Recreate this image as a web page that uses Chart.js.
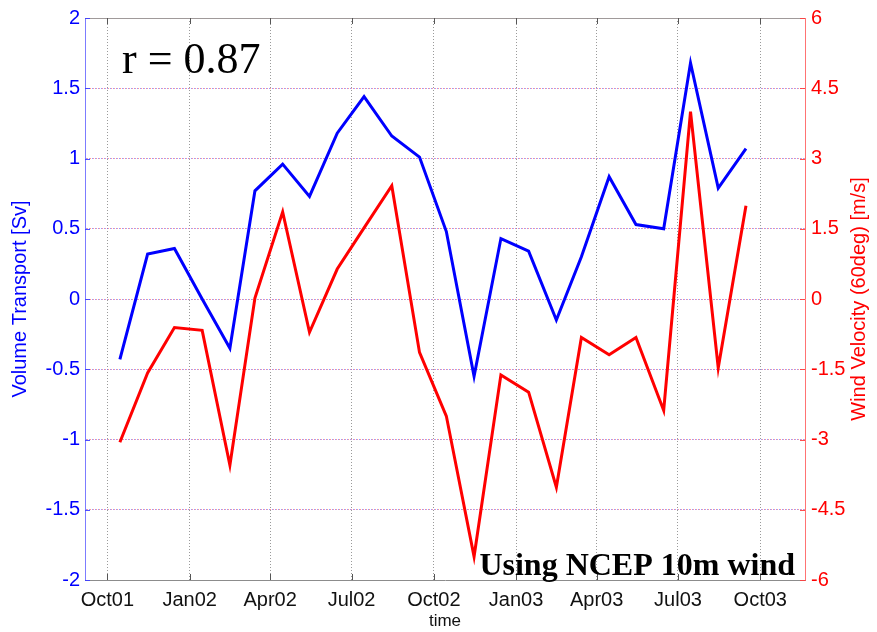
<!DOCTYPE html>
<html>
<head>
<meta charset="utf-8">
<script src="https://cdn.jsdelivr.net/npm/chart.js@4"></script>
<style>
  html, body { margin: 0; padding: 0; background: #fff; }
  #wrap { width: 877px; height: 632px; position: relative; }
</style>
</head>
<body>
<div id="wrap"><canvas id="c" width="877" height="632"></canvas></div>
<script>
// Monthly means (plotted at mid-month), Oct 2001 - Sep 2003
const months = [
  '2001-10','2001-11','2001-12',
  '2002-01','2002-02','2002-03','2002-04','2002-05','2002-06',
  '2002-07','2002-08','2002-09','2002-10','2002-11','2002-12',
  '2003-01','2003-02','2003-03','2003-04','2003-05','2003-06',
  '2003-07','2003-08','2003-09'
];
// Volume transport [Sv]
const transport = [
  -0.43, 0.32, 0.36,
  0.00, -0.35, 0.77, 0.96, 0.73, 1.18,
  1.44, 1.16, 1.01, 0.48, -0.55, 0.43,
  0.34, -0.15, 0.30, 0.87, 0.53, 0.50,
  1.68, 0.79, 1.07
];
// Wind velocity along 60deg [m/s]
const wind = [
  -3.06, -1.58, -0.61,
  -0.67, -3.55, 0.02, 1.86, -0.71, 0.64,
  1.52, 2.42, -1.14, -2.50, -5.50, -1.62,
  -1.99, -4.02, -0.82, -1.19, -0.82, -2.38,
  4.00, -1.47, 1.99
];
// Time axis ticks (first day of the month)
const tickMonths = ['2001-10','2002-01','2002-04','2002-07','2002-10','2003-01','2003-04','2003-07','2003-10'];
const tickLabels = ['Oct01','Jan02','Apr02','Jul02','Oct02','Jan03','Apr03','Jul03','Oct03'];
const leftTicks  = [-2, -1.5, -1, -0.5, 0, 0.5, 1, 1.5, 2];
const rightTicks = [-6, -4.5, -3, -1.5, 0, 1.5, 3, 4.5, 6];

const corrText = 'r = 0.87';
const noteText = 'Using NCEP 10m wind';

// Days counted from 1 Oct 2001
const ORIGIN = Date.UTC(2001, 9, 1);
function dayOf(ym, d) {
  const [y, m] = ym.split('-').map(Number);
  return (Date.UTC(y, m - 1, d) - ORIGIN) / 86400000;
}

const SANS = "'Liberation Sans', Arial, Helvetica, sans-serif";
const SERIF = "'Liberation Serif', 'Times New Roman', serif";

// Inward tick marks, frame top, right-axis label and in-plot annotations
const decorations = {
  id: 'decorations',
  afterDatasetsDraw(chart) {
    const { ctx, chartArea: a, scales } = chart;
    ctx.save();
    ctx.lineWidth = 1;
    // frame top
    ctx.strokeStyle = '#a09a9a';
    ctx.beginPath();
    ctx.moveTo(a.left, a.top + 0.5);
    ctx.lineTo(a.right, a.top + 0.5);
    ctx.stroke();
    // x ticks (bottom and top, pointing inward)
    ctx.strokeStyle = '#555';
    scales.x.ticks.forEach(t => {
      const px = Math.round(scales.x.getPixelForValue(t.value)) + 0.5;
      ctx.beginPath();
      ctx.moveTo(px, a.bottom); ctx.lineTo(px, a.bottom - 6);
      ctx.moveTo(px, a.top); ctx.lineTo(px, a.top + 6);
      ctx.stroke();
    });
    // left ticks
    ctx.strokeStyle = 'rgba(60,60,255,0.9)';
    scales.y.ticks.forEach(t => {
      const py = Math.round(scales.y.getPixelForValue(t.value)) + 0.5;
      ctx.beginPath(); ctx.moveTo(a.left, py); ctx.lineTo(a.left + 5, py); ctx.stroke();
    });
    // right ticks
    ctx.strokeStyle = 'rgba(255,60,60,0.9)';
    scales.y2.ticks.forEach(t => {
      const py = Math.round(scales.y2.getPixelForValue(t.value)) + 0.5;
      ctx.beginPath(); ctx.moveTo(a.right, py); ctx.lineTo(a.right - 5, py); ctx.stroke();
    });
    ctx.restore();
  },
  afterDraw(chart) {
    const { ctx, chartArea: a } = chart;
    ctx.save();
    // right axis title, reading upward
    ctx.fillStyle = '#ff0000';
    ctx.font = '20px ' + SANS;
    ctx.textAlign = 'center';
    ctx.textBaseline = 'middle';
    ctx.translate(859, (a.top + a.bottom) / 2);
    ctx.rotate(-Math.PI / 2);
    ctx.fillText('Wind Velocity (60deg) [m/s]', 0, 0);
    ctx.restore();

    ctx.save();
    ctx.fillStyle = '#000';
    ctx.textBaseline = 'alphabetic';
    ctx.textAlign = 'left';
    ctx.font = '44px ' + SERIF;
    ctx.fillText(corrText, a.left + 37, a.top + 55);
    ctx.font = 'bold 32px ' + SERIF;
    ctx.textAlign = 'right';
    ctx.fillText(noteText, a.right - 10, a.bottom - 5);
    ctx.restore();
  }
};

new Chart(document.getElementById('c'), {
  type: 'line',
  data: {
    datasets: [
      {
        label: 'Volume Transport',
        data: months.map((m, i) => ({ x: dayOf(m, 15), y: transport[i] })),
        yAxisID: 'y',
        borderColor: '#0000ff',
        borderWidth: 3,
        pointRadius: 0,
        tension: 0,
        fill: false
      },
      {
        label: 'Wind Velocity',
        data: months.map((m, i) => ({ x: dayOf(m, 15), y: wind[i] })),
        yAxisID: 'y2',
        borderColor: '#ff0000',
        borderWidth: 3,
        pointRadius: 0,
        tension: 0,
        fill: false
      }
    ]
  },
  options: {
    responsive: false,
    animation: false,
    devicePixelRatio: 1,
    layout: { padding: { top: 15, left: 0, right: 0, bottom: 0 } },
    plugins: { legend: { display: false }, tooltip: { enabled: false } },
    scales: {
      x: {
        type: 'linear',
        min: -25,
        max: 780,
        afterBuildTicks: s => { s.ticks = tickMonths.map(m => ({ value: dayOf(m, 1) })); },
        afterFit: s => { s.height = 52; },
        ticks: {
          autoSkip: false, maxRotation: 0, padding: 8,
          color: '#111',
          font: { family: SANS, size: 20 },
          callback: (v, i) => tickLabels[i]
        },
        grid: { color: 'rgba(120,120,120,0.75)', lineWidth: 1, drawTicks: false },
        border: { display: true, color: '#8c8c8c', width: 1, dash: [1, 2] },
        title: {
          display: true, text: 'time', color: '#111',
          font: { family: SANS, size: 17 }, padding: { top: 0, bottom: 0 }
        }
      },
      y: {
        position: 'left',
        min: -2, max: 2,
        afterBuildTicks: s => { s.ticks = leftTicks.map(v => ({ value: v })); },
        afterFit: s => { s.width = 85; },
        ticks: {
          color: '#0000ff', padding: 5,
          font: { family: SANS, size: 20 },
          callback: v => String(v)
        },
        grid: { color: 'rgba(110,110,255,0.7)', lineWidth: 1, drawTicks: false },
        border: { display: true, color: 'rgba(80,80,255,0.75)', width: 1, dash: [1, 2] },
        title: {
          display: true, text: 'Volume Transport [Sv]', color: '#0000ff',
          font: { family: SANS, size: 20 }, padding: { top: 8, bottom: 0 }
        }
      },
      y2: {
        position: 'right',
        min: -6, max: 6,
        afterBuildTicks: s => { s.ticks = rightTicks.map(v => ({ value: v })); },
        afterFit: s => { s.width = 72; },
        ticks: {
          color: '#ff0000', padding: 6,
          font: { family: SANS, size: 20 },
          callback: v => String(v)
        },
        grid: { color: 'rgba(255,110,110,0.7)', lineWidth: 1, drawTicks: false },
        border: { display: true, color: 'rgba(255,80,80,0.8)', width: 1, dash: [1, 2], dashOffset: 1 }
      }
    }
  },
  plugins: [decorations]
});
</script>
</body>
</html>
